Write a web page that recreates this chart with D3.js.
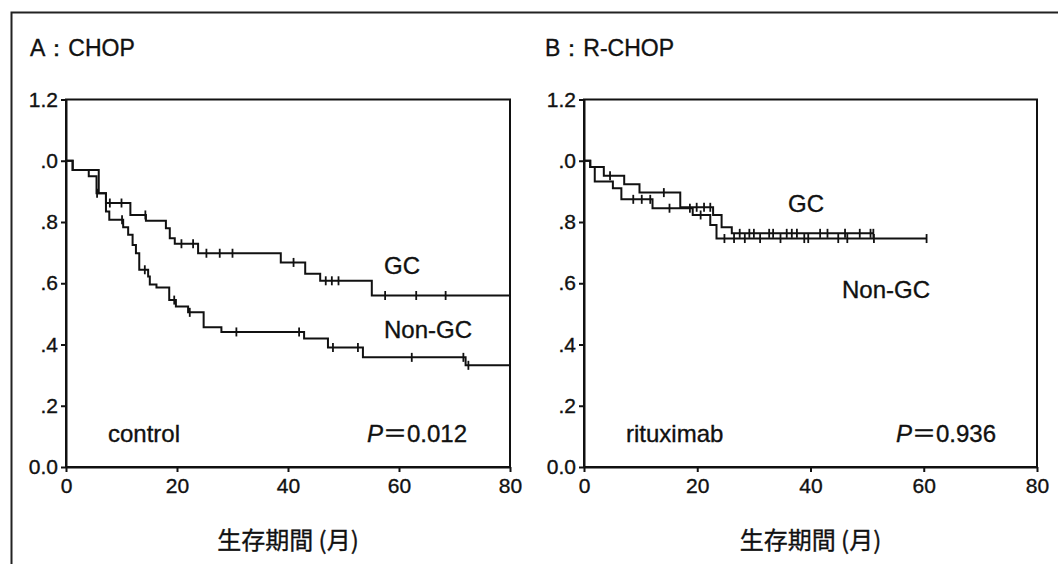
<!DOCTYPE html>
<html>
<head>
<meta charset="utf-8">
<script src="https://cdn.jsdelivr.net/npm/d3@7"></script>
<style>
  body { margin: 0; background: #fff; }
  svg { display: block; }
  text { stroke: #111; stroke-width: 0.35px; }
</style>
</head>
<body>
<svg id="chart"></svg>
<script>
// tick values / labels
const xTicks = [0, 20, 40, 60, 80];
const yTicks = [0, 0.2, 0.4, 0.6, 0.8, 1.0, 1.2];
const yTickLabels = ["0.0", ".2", ".4", ".6", ".8", ".0", "1.2"];

// A : CHOP  -- [months, survival] at each step
const chopGcSteps = [[0,1.0],[1.2,0.970],[5.9,0.894],[7.2,0.862],[11.6,0.823],[14.4,0.804],[18.0,0.780],[18.7,0.747],[19.6,0.729],[23.8,0.698],[38.7,0.668],[43.1,0.631],[45.8,0.608],[55.1,0.560]];
const chopGcCensored = [7.9, 10.0, 14.3, 20.8, 22.9, 25.3, 27.7, 30.0, 41.0, 46.8, 47.9, 49.1, 57.5, 63.1, 68.4];
const chopGcEnd = 80;

const chopNonGcSteps = [[0,1.0],[1.2,0.970],[4.1,0.949],[5.5,0.894],[7.2,0.834],[7.8,0.807],[10.3,0.783],[11.2,0.758],[12.0,0.725],[12.6,0.698],[13.2,0.644],[14.8,0.622],[15.1,0.596],[16.3,0.586],[18.6,0.545],[19.8,0.524],[22.0,0.505],[24.8,0.456],[28.0,0.441],[42.9,0.420],[47.2,0.390],[53.5,0.358],[72.0,0.332]];
const chopNonGcCensored = [5.6, 10.1, 14.2, 19.5, 22.3, 30.7, 42.0, 48.1, 52.6, 62.3, 71.6, 72.5];
const chopNonGcEnd = 80;

// B : R-CHOP
const rchopGcSteps = [[0,1.0],[1.1,0.980],[3.5,0.951],[7.1,0.923],[9.8,0.896],[17.0,0.848],[22.8,0.823],[24.3,0.783],[26.1,0.763]];
const rchopGcCensored = [4.6, 14.1, 19.9, 21.2, 22.3, 27.5, 29.2, 30.0, 32.7, 33.4, 35.8, 36.7, 37.6, 41.7, 43.0, 46.1, 48.7, 50.6, 51.1];
const rchopGcEnd = 51.1;

const rchopNonGcSteps = [[0,1.0],[1.1,0.980],[1.9,0.932],[5.1,0.910],[6.6,0.874],[12.1,0.845],[19.2,0.823],[22.3,0.790],[23.4,0.746]];
const rchopNonGcCensored = [8.7, 10.2, 11.7, 15.1, 18.7, 20.6, 24.8, 26.5, 28.4, 31.1, 34.7, 38.9, 39.6, 44.9, 46.5, 51.2, 60.5];
const rchopNonGcEnd = 60.5;

const WIDTH = 1058, HEIGHT = 564;
const FONT = "'Liberation Sans', Arial, Helvetica, sans-serif";
const CJK = "'Noto Sans CJK JP', sans-serif";
const INK = '#111';

const svg = d3.select('#chart').attr('width', WIDTH).attr('height', HEIGHT);
svg.append('rect').attr('width', WIDTH).attr('height', HEIGHT).attr('fill', '#fff');

// outer frame (only top and left edges are inside the picture)
svg.append('path')
  .attr('d', `M11.5,${HEIGHT} V12.5 H${WIDTH}`)
  .attr('fill', 'none').attr('stroke', '#222').attr('stroke-width', 2);

const panels = [
  { title: 'A：CHOP', left: 66, right: 510, titleX: 30,
    note: 'control', noteX: 108, pValue: '0.012', pRight: 467,
    gcLabel: [384, 274], nonGcLabel: [384, 338],
    curves: [
      { steps: chopGcSteps, censored: chopGcCensored, end: chopGcEnd },
      { steps: chopNonGcSteps, censored: chopNonGcCensored, end: chopNonGcEnd }
    ] },
  { title: 'B：R-CHOP', left: 584, right: 1037, titleX: 545,
    note: 'rituximab', noteX: 626, pValue: '0.936', pRight: 996,
    gcLabel: [788, 212], nonGcLabel: [842, 298],
    curves: [
      { steps: rchopGcSteps, censored: rchopGcCensored, end: rchopGcEnd },
      { steps: rchopNonGcSteps, censored: rchopNonGcCensored, end: rchopNonGcEnd }
    ] }
];

const TOP = 99.5, BOTTOM = 467;

panels.forEach(p => {
  const x = d3.scaleLinear().domain([0, 80]).range([p.left, p.right]);
  const y = d3.scaleLinear().domain([0, 1.2]).range([BOTTOM, TOP]);
  const g = svg.append('g');

  // title
  g.append('text')
    .attr('x', p.titleX).attr('y', 56)
    .attr('font-family', FONT).attr('font-size', 23).attr('fill', INK)
    .text(p.title);

  // frame
  g.append('rect')
    .attr('x', p.left).attr('y', TOP)
    .attr('width', p.right - p.left).attr('height', BOTTOM - TOP)
    .attr('fill', 'none').attr('stroke', INK).attr('stroke-width', 2);

  // axes
  const yAxis = g.append('g')
    .attr('transform', `translate(${p.left},0)`)
    .call(d3.axisLeft(y).tickValues(yTicks).tickSize(5).tickSizeOuter(0)
      .tickFormat((d, i) => yTickLabels[i]));
  const xAxis = g.append('g')
    .attr('transform', `translate(0,${BOTTOM})`)
    .call(d3.axisBottom(x).tickValues(xTicks).tickSize(5).tickSizeOuter(0).tickPadding(6));
  [yAxis, xAxis].forEach(a => {
    a.selectAll('path, line').attr('stroke', INK).attr('stroke-width', 2);
    a.selectAll('text').attr('font-family', FONT).attr('font-size', 21).attr('fill', INK);
  });

  // x axis title
  g.append('text')
    .attr('x', (p.left + p.right) / 2).attr('y', 549)
    .attr('text-anchor', 'middle')
    .attr('font-family', CJK).attr('font-size', 24).attr('fill', INK)
    .text('生存期間 (月)');

  // survival curves
  const line = d3.line().x(d => x(d[0])).y(d => y(d[1])).curve(d3.curveStepAfter);
  p.curves.forEach(c => {
    const pts = c.steps.concat([[c.end, c.steps[c.steps.length - 1][1]]]);
    g.append('path')
      .attr('d', line(pts))
      .attr('fill', 'none').attr('stroke', INK).attr('stroke-width', 2);

    const survAt = t => {
      let s = c.steps[0][1];
      c.steps.forEach(d => { if (d[0] <= t) s = d[1]; });
      return s;
    };
    g.selectAll(null)
      .data(c.censored)
      .enter()
      .append('line')
      .attr('x1', d => x(d)).attr('x2', d => x(d))
      .attr('y1', d => y(survAt(d)) - 4.5)
      .attr('y2', d => y(survAt(d)) + 4.5)
      .attr('stroke', INK).attr('stroke-width', 1.8);
  });

  // labels
  const label = (txt, pos) => g.append('text')
    .attr('x', pos[0]).attr('y', pos[1])
    .attr('font-family', FONT).attr('font-size', 24).attr('fill', INK)
    .text(txt);
  label('GC', p.gcLabel);
  label('Non-GC', p.nonGcLabel);
  label(p.note, [p.noteX, 442]);

  const pt = g.append('text')
    .attr('x', p.pRight).attr('y', 442)
    .attr('text-anchor', 'end')
    .attr('font-family', FONT).attr('font-size', 24).attr('fill', INK);
  pt.append('tspan').attr('font-style', 'italic').text('P');
  pt.append('tspan').attr('font-family', CJK).text('＝');
  pt.append('tspan').text(p.pValue);
});
</script>
</body>
</html>
